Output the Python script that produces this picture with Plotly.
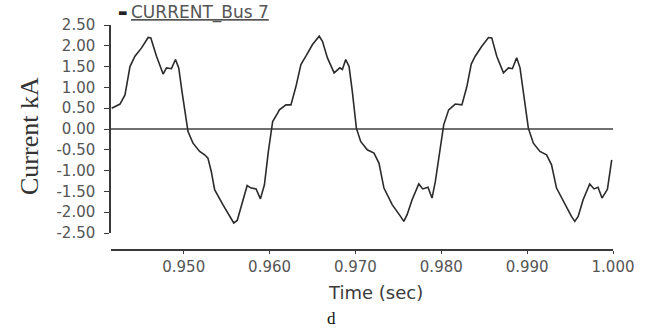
import plotly.graph_objects as go

# Digitised waveform: time (s) and current (kA)
time_s = [
    0.94161, 0.94258, 0.94316, 0.94374, 0.94432, 0.94509, 0.94586, 0.94617, 0.94683, 0.94760,
    0.94799, 0.94857, 0.94904, 0.94942, 0.94980, 0.95031, 0.95050, 0.95108, 0.95186, 0.95244,
    0.95282, 0.95321, 0.95360, 0.95456, 0.95534, 0.95583, 0.95623, 0.95669, 0.95739, 0.95785,
    0.95843, 0.95893, 0.95940, 0.95986, 0.96036, 0.96094, 0.96114, 0.96191, 0.96249, 0.96307,
    0.96365, 0.96423, 0.96500, 0.96578, 0.96616, 0.96674, 0.96752, 0.96818, 0.96848, 0.96887,
    0.96926, 0.96964, 0.97011, 0.97061, 0.97138, 0.97216, 0.97274, 0.97332, 0.97428, 0.97525,
    0.97564, 0.97602, 0.97660, 0.97738, 0.97784, 0.97845, 0.97892, 0.97931, 0.97989, 0.98028,
    0.98086, 0.98163, 0.98240, 0.98298, 0.98349, 0.98395, 0.98472, 0.98550, 0.98588, 0.98646,
    0.98724, 0.98782, 0.98828, 0.98878, 0.98917, 0.98956, 0.99014, 0.99072, 0.99149, 0.99226,
    0.99284, 0.99342, 0.99439, 0.99516, 0.99555, 0.99594, 0.99652, 0.99729, 0.99779, 0.99826,
    0.99872, 0.99935, 0.99985,
]
current_ka = [
    0.50, 0.60, 0.82, 1.50, 1.75, 1.95, 2.20, 2.19, 1.75, 1.32,
    1.47, 1.45, 1.67, 1.47, 0.90, 0.10, -0.06, -0.34, -0.54, -0.62,
    -0.70, -1.02, -1.46, -1.82, -2.10, -2.26, -2.20, -1.86, -1.36, -1.42,
    -1.44, -1.68, -1.34, -0.54, 0.18, 0.38, 0.46, 0.58, 0.58, 1.02,
    1.55, 1.75, 2.03, 2.23, 2.11, 1.71, 1.35, 1.47, 1.43, 1.67,
    1.50, 0.90, 0.02, -0.30, -0.50, -0.58, -0.82, -1.42, -1.82, -2.10,
    -2.22, -2.06, -1.70, -1.32, -1.44, -1.40, -1.66, -1.26, -0.38, 0.10,
    0.46, 0.60, 0.58, 1.02, 1.56, 1.75, 1.99, 2.20, 2.19, 1.75,
    1.35, 1.47, 1.45, 1.71, 1.47, 0.90, 0.02, -0.34, -0.54, -0.62,
    -0.86, -1.42, -1.82, -2.10, -2.22, -2.10, -1.70, -1.32, -1.44, -1.40,
    -1.66, -1.45, -0.74,
]

y_tick_vals = [2.5, 2.0, 1.5, 1.0, 0.5, 0.0, -0.5, -1.0, -1.5, -2.0, -2.5]
y_tick_text = ["2.50", "2.00", "1.50", "1.00", "0.50", "0.00", "-0.50", "-1.00", "-1.50", "-2.00", "-2.50"]
x_tick_vals = [0.95, 0.96, 0.97, 0.98, 0.99, 1.00]
x_tick_text = ["0.950", "0.960", "0.970", "0.980", "0.990", "1.000"]

W, H = 645, 329
L, R, T, B = 111, 32, 25, 79
pw, ph = W - L - R, H - T - B

def px_x(px):
    return (px - L) / pw

def px_y(py):
    return (H - B - py) / ph

fig = go.Figure()
fig.add_trace(go.Scatter(
    x=time_s, y=current_ka, mode="lines",
    line=dict(color="#2b2b2b", width=1.6),
    showlegend=False, hoverinfo="skip",
))

tick_font = dict(family="DejaVu Sans", size=15, color="#555555")

def note(text, px, py, size, family, color, xanchor="center", angle=0):
    return dict(text=text, x=px_x(px), y=px_y(py), xref="paper", yref="paper",
                xanchor=xanchor, yanchor="middle", showarrow=False, textangle=angle,
                font=dict(family=family, size=size, color=color))

fig.update_layout(
    width=W, height=H,
    margin=dict(l=L, r=R, t=T, b=B, pad=0),
    paper_bgcolor="white", plot_bgcolor="white",
    xaxis=dict(
        range=[0.94153, 1.0], showgrid=False, zeroline=False,
        showline=True, linecolor="#3a3a3a", linewidth=1.5,
        ticks="outside", ticklen=3, tickcolor="#3a3a3a",
        tickvals=x_tick_vals, ticktext=x_tick_text, tickfont=tick_font,
        anchor="free", position=0,
    ),
    yaxis=dict(
        range=[-2.5, 2.5], domain=[(H - B - 233) / ph, 1.0],
        showgrid=False, zeroline=True, zerolinecolor="#707070", zerolinewidth=2,
        showline=True, linecolor="#3a3a3a", linewidth=1.5,
        ticks="outside", ticklen=5, tickcolor="#3a3a3a",
        tickvals=y_tick_vals, ticktext=y_tick_text, tickfont=tick_font,
        ticklabelstandoff=6,
    ),
    annotations=[
        note("Time (sec)", 375, 292, 18, "DejaVu Sans", "#3a3a3a"),
        note("Current kA", 29, 136, 26, "Liberation Serif", "#333333", angle=-90),
        note("d", 331, 318, 17, "Liberation Serif", "#111111"),
        note("▬", 116, 12, 10, "DejaVu Sans", "#222222", xanchor="left"),
        note("<u>CURRENT_Bus 7</u>", 129, 12, 17, "DejaVu Sans", "#555555", xanchor="left"),
    ],
)

fig.write_html("out.html")
